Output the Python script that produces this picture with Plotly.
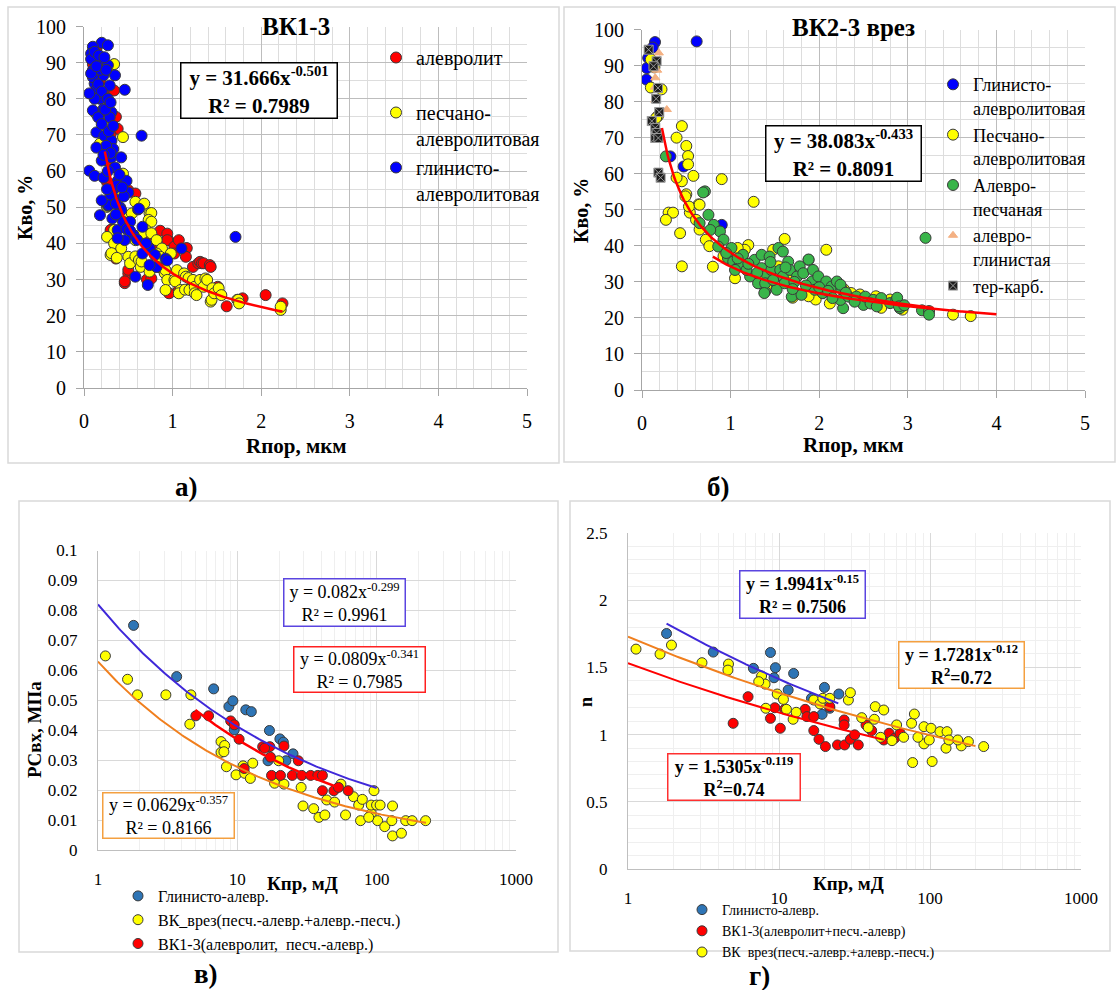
import numpy as np
import plotly.graph_objects as go

W, H = 1117, 990
SERIF = '"Liberation Serif", "Times New Roman", serif'


def fx(p):
    return p / W


def fy(p):
    return 1 - p / H


# ---------------- а) ВК1-3 : Кво vs Rпор ----------------
a_alev_x = [0.14, 0.10, 0.18, 0.22, 0.34, 0.22, 0.36, 0.38, 0.30, 0.26, 0.26, 0.50, 0.58, 0.31, 0.30, 0.36,
            0.46, 0.50, 0.50, 0.46, 0.70, 0.71, 0.76, 0.82, 0.86, 0.88, 0.95, 0.94, 0.94, 0.96, 1.02, 1.02,
            1.07, 1.07, 1.15, 1.16, 1.15, 1.23, 1.23, 1.29, 1.31, 1.33, 1.35, 1.42, 1.43, 1.51, 1.61, 1.79,
            2.05, 2.24]
a_alev_y = [93.8, 89.6, 85.0, 81.3, 82.3, 76.7, 75.0, 71.7, 70.0, 63.0, 57.0, 54.7, 53.8, 43.8, 43.7, 35.8,
            29.0, 31.7, 32.7, 29.5, 40.9, 30.0, 30.3, 39.1, 43.5, 33.1, 41.0, 42.7, 40.9, 26.2, 39.1, 37.2,
            40.9, 27.1, 38.6, 38.7, 36.3, 33.5, 29.0, 34.5, 34.9, 34.5, 34.5, 34.0, 33.5, 28.0, 22.6, 24.8,
            25.7, 23.4]

a_pesch_x = [0.34, 0.28, 0.14, 0.18, 0.44, 0.44, 0.38, 0.26, 0.58, 0.68, 0.74, 0.76, 0.73, 0.76, 0.46, 0.54,
             0.34, 0.26, 0.34, 0.42, 0.30, 0.31, 0.37, 0.50, 0.52, 0.58, 0.62, 0.64, 0.65, 0.70, 0.66, 0.58,
             0.76, 0.82, 0.88, 0.82, 0.86, 0.98, 0.74, 0.82, 0.91, 0.92, 0.94, 0.92, 1.02, 1.03, 1.05, 1.09,
             1.07, 1.13, 1.14, 1.15, 1.18, 1.19, 1.23, 1.25, 1.25, 1.27, 1.31, 1.37, 1.35, 1.39, 1.43, 1.44,
             1.45, 1.47, 1.52, 1.55, 1.73, 1.74, 1.75, 2.22, 2.22]
a_pesch_y = [89.6, 73.1, 75.8, 67.6, 69.4, 59.3, 53.8, 50.1, 51.5, 51.0, 48.3, 48.4, 46.5, 46.0, 47.3, 48.3,
             43.7, 41.8, 40.0, 38.6, 36.8, 37.3, 36.0, 36.3, 34.5, 36.4, 35.4, 33.5, 35.0, 43.7, 42.7, 40.9,
             42.8, 40.9, 38.6, 37.2, 36.3, 37.2, 32.2, 33.5, 31.8, 32.6, 29.9, 27.1, 29.9, 29.5, 32.6, 27.1,
             26.2, 31.7, 27.2, 30.8, 30.4, 27.1, 29.9, 28.0, 26.2, 25.7, 29.9, 30.3, 28.0, 29.9, 23.9, 24.4,
             27.6, 26.2, 27.6, 25.7, 24.4, 24.4, 23.4, 21.6, 22.5]

a_glin_x = [0.20, 0.27, 0.10, 0.08, 0.16, 0.10, 0.27, 0.35, 0.22, 0.12, 0.29, 0.46, 0.14, 0.18, 0.10, 0.22,
            0.31, 0.16, 0.29, 0.65, 0.14, 0.23, 0.31, 0.33, 0.06, 0.12, 0.20, 0.31, 0.42, 0.22, 0.38, 0.48,
            0.50, 0.35, 0.27, 0.41, 0.18, 0.61, 0.32, 0.38, 0.42, 0.62, 0.66, 0.56, 0.46, 0.38, 0.74, 0.66,
            0.80, 0.92, 0.82, 0.74, 1.10, 0.58, 0.72, 1.71, 0.94, 0.44, 0.28, 0.20, 0.34, 0.08, 0.12, 0.18,
            0.25, 0.10, 0.16, 0.20, 0.27, 0.12, 0.24, 0.30, 0.20, 0.28, 0.25, 0.30, 0.35, 0.27, 0.40, 0.45,
            0.30, 0.52, 0.48, 0.60, 0.70, 0.52, 0.36, 0.14, 0.06, 0.08, 0.14, 0.17, 0.23, 0.33, 0.37, 0.43,
            0.26, 0.36, 0.22]
a_glin_y = [95.5, 94.8, 94.4, 92.5, 90.6, 87.9, 89.3, 86.5, 86.5, 84.2, 83.7, 82.5, 82.5, 80.0, 76.8, 77.2,
            76.3, 74.9, 74.9, 69.8, 70.7, 69.8, 68.4, 66.1, 60.1, 58.7, 62.9, 63.8, 63.8, 58.2, 57.3, 57.3,
            54.1, 52.2, 50.4, 49.9, 47.8, 49.4, 46.9, 43.7, 49.2, 49.6, 44.6, 42.3, 40.9, 41.4, 38.6, 37.2,
            36.8, 35.8, 33.5, 34.0, 38.6, 30.8, 28.5, 41.8, 35.3, 46.0, 50.6, 51.9, 55.1, 91.0, 93.0, 88.0,
            88.0, 86.0, 84.0, 82.0, 80.0, 80.0, 77.0, 79.0, 73.0, 71.0, 67.0, 65.0, 61.0, 60.0, 59.0, 53.0,
            53.5, 46.0, 44.0, 41.0, 40.0, 43.5, 48.0, 66.5, 81.5, 87.0, 89.0, 92.0, 91.5, 72.5, 56.0, 55.5,
            55.0, 51.0, 64.5]

A_FIT = (31.666, -0.501, 0.235, 2.24)  # coefficient, exponent, x from, x to

# ---------------- б) ВК2-3 врез : Кво vs Rпор ----------------
b_glin_x = [0.147, 0.617, 0.07, 0.05, 0.055, 0.32, 0.47, 0.90, 0.12]
b_glin_y = [96.5, 96.7, 92.1, 86.1, 89.3, 64.8, 62.0, 45.8, 95.0]

b_pesch_x = [0.10, 0.22, 0.18, 0.45, 0.39, 0.50, 0.52, 0.52, 0.58, 0.90, 1.26, 0.45, 0.39, 0.50, 0.64, 0.54,
             0.30, 0.35, 0.10, 0.27, 0.43, 0.45, 0.80, 1.05, 1.61, 2.08, 1.20, 1.16, 1.08, 1.48, 3.51, 3.71,
             2.94, 2.70, 2.64, 2.36, 2.12, 1.96, 1.70, 1.32, 1.40, 0.65, 0.72, 0.76, 0.61, 0.53, 0.49, 0.65,
             0.92, 0.98, 2.46, 2.80, 1.54, 1.68, 1.88, 2.04, 2.28, 0.14, 0.16]
b_pesch_y = [83.9, 83.4, 76.0, 73.2, 70.0, 67.7, 64.9, 62.6, 59.4, 58.5, 52.2, 57.9, 58.9, 54.3, 51.5, 49.2,
             49.2, 49.2, 91.7, 47.2, 43.5, 34.3, 34.2, 31.0, 41.9, 38.9, 40.2, 38.9, 39.4, 38.9, 20.9, 20.5,
             22.3, 22.8, 26.0, 26.9, 24.0, 25.1, 25.6, 30.6, 28.8, 44.5, 41.7, 39.9, 47.2, 50.9, 53.7, 51.4,
             37.1, 37.1, 26.5, 25.1, 34.3, 32.5, 26.0, 26.9, 27.9, 89.5, 75.5]

b_alps_x = [0.27, 0.71, 0.69, 0.75, 0.81, 0.88, 0.77, 0.65, 0.92, 0.86, 1.01, 0.97, 1.03, 1.10, 1.14, 1.27,
            1.35, 1.35, 1.44, 1.41, 1.39, 1.46, 1.54, 1.59, 1.56, 1.52, 1.59, 1.65, 1.67, 1.75, 1.78, 1.82,
            1.88, 1.92, 1.93, 1.99, 1.95, 2.04, 2.08, 2.14, 2.20, 2.25, 2.27, 2.24, 2.33, 2.42, 2.50, 2.52,
            2.61, 2.70, 2.80, 2.87, 2.91, 1.69, 1.80, 1.61, 1.22, 1.31, 1.39, 1.18, 1.05, 3.20, 3.16, 3.24,
            3.24, 2.88, 2.90, 1.38, 2.24, 1.88, 0.95, 1.08, 1.20, 1.30, 1.48, 1.62, 1.72, 1.85, 2.00, 2.10,
            2.30, 2.40, 2.58, 2.65, 2.96, 1.45, 1.70, 2.15]
b_alps_y = [64.8, 55.1, 54.8, 48.6, 45.8, 44.0, 44.4, 46.3, 41.7, 39.8, 39.4, 36.6, 35.6, 34.7, 37.5, 36.1,
            37.5, 33.8, 37.0, 31.9, 27.3, 33.3, 39.4, 38.4, 33.3, 27.8, 31.5, 35.6, 33.3, 31.5, 34.3, 32.4,
            36.1, 30.1, 33.3, 31.5, 27.8, 26.9, 30.1, 28.7, 30.1, 28.2, 22.7, 25.0, 25.9, 25.9, 23.6, 25.9,
            25.0, 25.5, 24.1, 25.0, 22.7, 25.9, 26.4, 29.6, 31.5, 29.6, 29.6, 33.3, 33.3, 42.2, 22.1, 21.9,
            20.9, 25.6, 23.2, 26.9, 29.2, 36.2, 38.0, 36.5, 35.0, 32.5, 30.5, 34.0, 30.0, 29.0, 28.5, 27.5,
            27.0, 24.5, 24.0, 23.2, 23.5, 35.5, 28.0, 25.5]

b_algl_x = [0.165, 0.28, 0.15, 0.19, 0.17, 0.15, 0.145]
b_algl_y = [88.9, 77.8, 86.6, 93.5, 88.7, 80.4, 84.0]

b_terk_x = [0.075, 0.165, 0.13, 0.18, 0.16, 0.195, 0.11, 0.15, 0.165, 0.15, 0.185, 0.185, 0.21]
b_terk_y = [94.4, 91.2, 89.8, 83.8, 80.8, 77.1, 74.6, 72.7, 71.3, 69.9, 69.9, 60.3, 58.9]

B_FIT = (38.083, -0.433, 0.225, 3.29)
B_FIT_SAND = (34.2, -0.352, 0.80, 4.0)

# ---------------- в) РСвх vs Кпр ----------------
c_glin_x = [1.80, 3.67, 6.76, 8.70, 9.29, 9.50, 11.5, 12.6, 17.0, 20.2, 21.4, 25.1, 22.3, 16.6]
c_glin_y = [0.0750, 0.0579, 0.0538, 0.0479, 0.0498, 0.0401, 0.0468, 0.0462, 0.0399, 0.0371, 0.0360,
            0.0321, 0.0298, 0.0298]

c_vrez_x = [1.13, 1.63, 1.92, 3.07, 4.64, 4.56, 7.64, 8.11, 7.64, 8.01, 8.35, 9.79, 11.0, 11.3, 12.4, 12.9,
            18.5, 21.6, 19.8, 28.7, 29.6, 35.3, 38.5, 42.5, 43.8, 49.9, 55.4, 59.8, 68.1, 74.3, 76.6, 78.9,
            91.4, 91.4, 95.7, 99.8, 101.6, 105.9, 114.3, 128.5, 130.0, 130.0, 150.6, 161.6, 179.6, 224.5, 87.7]
c_vrez_y = [0.0648, 0.0570, 0.0518, 0.0518, 0.0518, 0.0420, 0.0362, 0.0349, 0.0326, 0.0328, 0.0278, 0.0251,
            0.0281, 0.0256, 0.0239, 0.0290, 0.0223, 0.0220, 0.0298, 0.0209, 0.0147, 0.0138, 0.0109, 0.0117,
            0.0167, 0.0160, 0.0220, 0.0117, 0.0178, 0.0150, 0.0098, 0.0169, 0.0122, 0.0150, 0.0198, 0.0150,
            0.0098, 0.0150, 0.0078, 0.0098, 0.0147, 0.0047, 0.0056, 0.0098, 0.0098, 0.0098, 0.0109]

c_vk13_x = [5.04, 6.22, 8.96, 9.50, 10.3, 15.2, 17.1, 21.6, 15.7, 17.3, 27.4, 17.6, 20.4, 24.8, 29.0, 33.6,
            37.8, 40.8, 40.8, 49.3, 53.2, 62.4, 11.2]
c_vk13_y = [0.0448, 0.0448, 0.0431, 0.0418, 0.0370, 0.0345, 0.0345, 0.0347, 0.0340, 0.0310, 0.0298, 0.0249,
            0.0249, 0.0249, 0.0249, 0.0249, 0.0249, 0.0249, 0.0198, 0.0198, 0.0209, 0.0198, 0.0272]

C_FIT_GLIN = (0.082, -0.299, 1.0, 100.0)
C_FIT_VK13 = (0.0809, -0.341, 5.0, 55.0)
C_FIT_VREZ = (0.0629, -0.357, 1.0, 226.0)

# ---------------- г) n vs Кпр ----------------
d_glin_x = [1.80, 3.67, 6.77, 8.78, 9.47, 9.27, 12.5, 11.5, 20.0, 24.9, 19.3, 21.7, 16.4]
d_glin_y = [1.752, 1.614, 1.493, 1.611, 1.498, 1.423, 1.455, 1.332, 1.351, 1.302, 1.151, 1.196, 1.270]

d_vk13_x = [4.97, 6.24, 8.78, 9.38, 10.2, 10.9, 14.9, 15.3, 17.0, 17.0, 18.4, 20.3, 21.7, 24.4, 27.2, 27.0,
            27.0, 29.7, 31.7, 33.5, 37.7, 41.1, 49.4, 53.6, 58.4, 63.4]
d_vk13_y = [1.084, 1.282, 1.121, 1.200, 1.047, 1.188, 1.188, 1.134, 1.134, 1.030, 0.965, 0.911, 1.208, 0.923,
            0.923, 1.109, 1.072, 0.965, 0.998, 0.923, 1.072, 1.030, 0.960, 1.010, 0.973, 1.010]

d_vrez_x = [1.13, 1.63, 1.94, 3.09, 4.63, 4.59, 7.67, 8.09, 7.34, 8.18, 9.73, 10.7, 11.2, 12.4, 13.0, 17.0,
            18.7, 19.5, 21.7, 28.8, 29.7, 35.3, 39.0, 43.4, 42.8, 49.4, 47.1, 56.0, 60.1, 66.9, 75.5, 78.8,
            76.7, 91.2, 91.2, 98.9, 101.6, 103.3, 116.4, 129.7, 127.7, 133.4, 161.1, 179.6, 226.7, 152.7, 83.2]
d_vrez_y = [1.636, 1.599, 1.666, 1.535, 1.525, 1.480, 1.436, 1.376, 1.394, 1.196, 1.302, 1.262, 1.188, 1.114,
            1.166, 1.257, 1.228, 1.270, 1.270, 1.257, 1.312, 1.126, 1.052, 1.208, 1.114, 1.183, 0.980, 0.955,
            1.072, 0.980, 1.084, 1.153, 0.792, 1.059, 0.931, 0.960, 1.047, 0.800, 1.022, 1.022, 0.899, 0.960,
            0.916, 0.948, 0.911, 0.960, 0.980]

D_FIT_GLIN = (1.9941, -0.15, 1.8, 24.7)
D_FIT_VREZ = (1.7281, -0.12, 1.0, 200.0)
D_FIT_VK13 = (1.5305, -0.119, 1.0, 49.4)

# tick labels
a_xticks = [0, 1, 2, 3, 4, 5]
a_yticks = [0, 10, 20, 30, 40, 50, 60, 70, 80, 90, 100]
c_xticks = [1, 10, 100, 1000]
c_yticks = [0, 0.01, 0.02, 0.03, 0.04, 0.05, 0.06, 0.07, 0.08, 0.09, 0.1]
c_yticktext = ["0", "0.01", "0.02", "0.03", "0.04", "0.05", "0.06", "0.07", "0.08", "0.09", "0.1"]
d_yticks = [0, 0.5, 1, 1.5, 2, 2.5]
d_yticktext = ["0", "0.5", "1", "1.5", "2", "2.5"]

# ---------------------------------------------------------------------------
fig = go.Figure()


def points(x, y, name, color, ax, legend, size=11, symbol="circle", edge="#3a3a3a"):
    fig.add_trace(go.Scatter(
        x=x, y=y, mode="markers", name=name, legend=legend,
        xaxis="x" + ax, yaxis="y" + ax,
        marker=dict(color=color, size=size, symbol=symbol, line=dict(color=edge, width=1)),
    ))


def power_curve(fit, color, ax, log=False, width=2.5):
    k, p, x0, x1 = fit
    xs = np.geomspace(x0, x1, 200) if log else np.linspace(x0, x1, 200)
    fig.add_trace(go.Scatter(
        x=xs, y=k * xs ** p, mode="lines", showlegend=False, hoverinfo="skip",
        xaxis="x" + ax, yaxis="y" + ax, line=dict(color=color, width=width),
    ))


RED, YEL, BLUE = "#FF0000", "#FFFF00", "#0000FF"
GREEN, PEACH, STEEL = "#39B54A", "#F4B183", "#2E75B6"
VIOLET, ORANGE = "#3F28D9", "#F07F1E"

# а
points(a_alev_x, a_alev_y, "алевролит<br> ", RED, "", "legend")
points(a_pesch_x, a_pesch_y, "песчано-<br>алевролитовая", YEL, "", "legend")
points(a_glin_x, a_glin_y, "глинисто-<br>алевролитовая", BLUE, "", "legend")
power_curve(A_FIT, RED, "")

# б
points(b_glin_x, b_glin_y, "Глинисто-<br>алевролитовая", BLUE, "2", "legend2")
points(b_pesch_x, b_pesch_y, "Песчано-<br>алевролитовая", YEL, "2", "legend2")
points(b_alps_x, b_alps_y, "Алевро-<br>песчаная", GREEN, "2", "legend2")
points(b_algl_x, b_algl_y, "алевро-<br>глинистая", PEACH, "2", "legend2", size=8,
       symbol="triangle-up", edge=PEACH)
points(b_terk_x, b_terk_y, "тер-карб.", "#1E1E1E", "2", "legend2", size=9,
       symbol="square-x", edge="#9A9A9A")
power_curve(B_FIT, RED, "2")
power_curve(B_FIT_SAND, RED, "2")

# в
points(c_glin_x, c_glin_y, "Глинисто-алевр.", STEEL, "3", "legend3", size=10)
points(c_vrez_x, c_vrez_y, "ВК_врез(песч.-алевр.+алевр.-песч.)", YEL, "3", "legend3", size=10)
points(c_vk13_x, c_vk13_y, "ВК1-3(алевролит,  песч.-алевр.)", RED, "3", "legend3", size=10)
power_curve(C_FIT_GLIN, VIOLET, "3", log=True, width=2)
power_curve(C_FIT_VREZ, ORANGE, "3", log=True, width=2)
power_curve(C_FIT_VK13, RED, "3", log=True, width=2.5)

# г
points(d_glin_x, d_glin_y, "Глинисто-алевр.", STEEL, "4", "legend4", size=10)
points(d_vk13_x, d_vk13_y, "ВК1-3(алевролит+песч.-алевр)", RED, "4", "legend4", size=10)
points(d_vrez_x, d_vrez_y, "ВК  врез(песч.-алевр.+алевр.-песч.)", YEL, "4", "legend4", size=10)
power_curve(D_FIT_GLIN, VIOLET, "4", log=True, width=2)
power_curve(D_FIT_VREZ, ORANGE, "4", log=True, width=2)
power_curve(D_FIT_VK13, RED, "4", log=True, width=2)

# ---------------------------------------------------------------------------
tick_font_ab = dict(family=SERIF, size=20, color="#000000")
tick_font_cd = dict(family=SERIF, size=17, color="#000000")


def lin_axes(xd, yd, anchor_x, anchor_y):
    xa = dict(domain=xd, anchor=anchor_y, range=[0, 5], tickvals=a_xticks,
              showgrid=True, gridcolor="#BDBDBD", gridwidth=1,
              minor=dict(dtick=0.2, showgrid=True, gridcolor="#DDDDDD", ticks=""),
              showline=True, linecolor="#A6A6A6", linewidth=1,
              ticks="outside", ticklen=7, tickcolor="#A6A6A6", automargin=False,
              ticklabelstandoff=8, tickfont=tick_font_ab, zeroline=False, fixedrange=True)
    ya = dict(domain=yd, anchor=anchor_x, range=[0, 100], tickvals=a_yticks,
              showgrid=True, gridcolor="#BDBDBD", gridwidth=1,
              minor=dict(dtick=5, showgrid=True, gridcolor="#DDDDDD", ticks=""),
              showline=True, linecolor="#A6A6A6", linewidth=1,
              ticks="outside", ticklen=7, tickcolor="#A6A6A6", automargin=False,
              ticklabelstandoff=6, tickfont=tick_font_ab, zeroline=False, fixedrange=True)
    return xa, ya


def log_axes(xd, yd, anchor_x, anchor_y, ymax, yvals, ytext, yminor):
    xa = dict(domain=xd, anchor=anchor_y, type="log", range=[0, 3],
              tickvals=c_xticks, ticktext=[str(v) for v in c_xticks],
              showgrid=True, gridcolor="#D9D9D9",
              minor=dict(dtick="D1", showgrid=True, gridcolor="#EFEFEF", ticks=""),
              showline=True, linecolor="#BFBFBF", ticks="", ticklabelstandoff=14, automargin=False,
              tickfont=tick_font_cd, zeroline=False, fixedrange=True)
    ya = dict(domain=yd, anchor=anchor_x, range=[0, ymax], tickvals=yvals, ticktext=ytext,
              showgrid=True, gridcolor="#D9D9D9", automargin=False,
              showline=True, linecolor="#BFBFBF", ticks="", ticklabelstandoff=16,
              tickfont=tick_font_cd, zeroline=False, fixedrange=True)
    if yminor:
        ya["minor"] = dict(dtick=yminor, showgrid=True, gridcolor="#EFEFEF", ticks="")
    return xa, ya


xa1, ya1 = lin_axes([fx(84), fx(527)], [fy(388), fy(26.5)], "x", "y")
xa2, ya2 = lin_axes([fx(642), fx(1085)], [fy(390), fy(29.5)], "x2", "y2")
xa3, ya3 = log_axes([fx(98), fx(516)], [fy(850), fy(550.5)], "x3", "y3", 0.1, c_yticks, c_yticktext, None)
xa4, ya4 = log_axes([fx(628), fx(1081)], [fy(869), fy(533)], "x4", "y4", 2.5, d_yticks, d_yticktext, 0.1)

legend_common = dict(bgcolor="rgba(0,0,0,0)", xanchor="left", yanchor="top", valign="top",
                     tracegroupgap=0, itemclick=False, itemdoubleclick=False)

fig.update_layout(
    width=W, height=H, autosize=False,
    margin=dict(l=0, r=0, t=0, b=0, pad=0, autoexpand=False),
    paper_bgcolor="white", plot_bgcolor="white",
    font=dict(family=SERIF, color="#000000"),
    xaxis=xa1, yaxis=ya1, xaxis2=xa2, yaxis2=ya2,
    xaxis3=xa3, yaxis3=ya3, xaxis4=xa4, yaxis4=ya4,
    legend=dict(x=fx(376), y=fy(38), font=dict(family=SERIF, size=20), **legend_common),
    legend2=dict(x=fx(933), y=fy(66), font=dict(family=SERIF, size=18.2), **legend_common),
    legend3=dict(x=fx(118), y=fy(879), font=dict(family=SERIF, size=16), **legend_common),
    legend4=dict(x=fx(682), y=fy(894), font=dict(family=SERIF, size=14), **legend_common),
)

# outer frames of the four panels
for x0, y0, x1, y1 in [(8, 7, 559, 463), (564, 7, 1115, 462), (19, 501, 558, 952), (570, 501, 1110, 951)]:
    fig.add_shape(type="rect", xref="paper", yref="paper",
                  x0=fx(x0), x1=fx(x1), y0=fy(y1), y1=fy(y0),
                  line=dict(color="#D9D9D9", width=1.5), fillcolor="rgba(0,0,0,0)", layer="below")


def text(px, py, s, size, bold=True, angle=0):
    fig.add_annotation(x=fx(px), y=fy(py), xref="paper", yref="paper", showarrow=False,
                       text=f"<b>{s}</b>" if bold else s, textangle=angle,
                       xanchor="center", yanchor="middle",
                       font=dict(family=SERIF, size=size, color="#000000"))


def eq_box(cx, cy, w, h, lines, size, color, bold):
    body = "<br>".join(f"<b>{ln}</b>" if bold else ln for ln in lines)
    fig.add_annotation(x=fx(cx), y=fy(cy), xref="paper", yref="paper", showarrow=False,
                       text=body, xanchor="center", yanchor="middle", align="center",
                       width=w, height=h, borderpad=0, borderwidth=1.5, bordercolor=color,
                       bgcolor="white", font=dict(family=SERIF, size=size, color="#000000"))


# titles and axis titles
text(296, 27, "ВК1-3", 25)
text(853, 28, "ВК2-3 врез", 25)
text(25, 208, "Кво, %", 20, angle=-90)
text(581, 211, "Кво, %", 20, angle=-90)
text(296, 446, "Rпор, мкм", 21)
text(853, 445, "Rпор, мкм", 21)
text(34, 730, "PCвх, МПа", 19, angle=-90)
text(303, 883, "Кпр, мД", 19)
text(586, 702, "n", 18, angle=-90)
text(848, 883, "Кпр, мД", 19)

# panel letters
text(186, 487, "а)", 27)
text(718, 487, "б)", 27)
text(206, 974, "в)", 27)
text(759, 976, "г)", 27)

# regression equations
eq_box(259, 90, 155, 54, ["y = 31.666x<sup>-0.501</sup>", "R² = 0.7989"], 21, "#000000", True)
eq_box(843.5, 153.5, 154, 54, ["y = 38.083x<sup>-0.433</sup>", "R² = 0.8091"], 21, "#000000", True)
eq_box(344.5, 602, 120, 46, ["y = 0.082x<sup>-0.299</sup>", "R² = 0.9961"], 18, "#5A45E0", False)
eq_box(359.5, 669.5, 130, 44, ["y = 0.0809x<sup>-0.341</sup>", "R² = 0.7985"], 18, "#FF2020", False)
eq_box(168, 815.5, 130, 44, ["y = 0.0629x<sup>-0.357</sup>", "R² = 0.8166"], 18, "#F4A040", False)
eq_box(802, 594.5, 124, 46, ["y = 1.9941x<sup>-0.15</sup>", "R² = 0.7506"], 18, "#5A45E0", True)
eq_box(961.5, 665, 124, 45, ["y = 1.7281x<sup>-0.12</sup>", "R<sup>2</sup>=0.72"], 18, "#F4A040", True)
eq_box(734, 777, 131, 45, ["y = 1.5305x<sup>-0.119</sup>", "R<sup>2</sup>=0.74"], 18, "#FF3030", True)

fig.write_html("out.html")
